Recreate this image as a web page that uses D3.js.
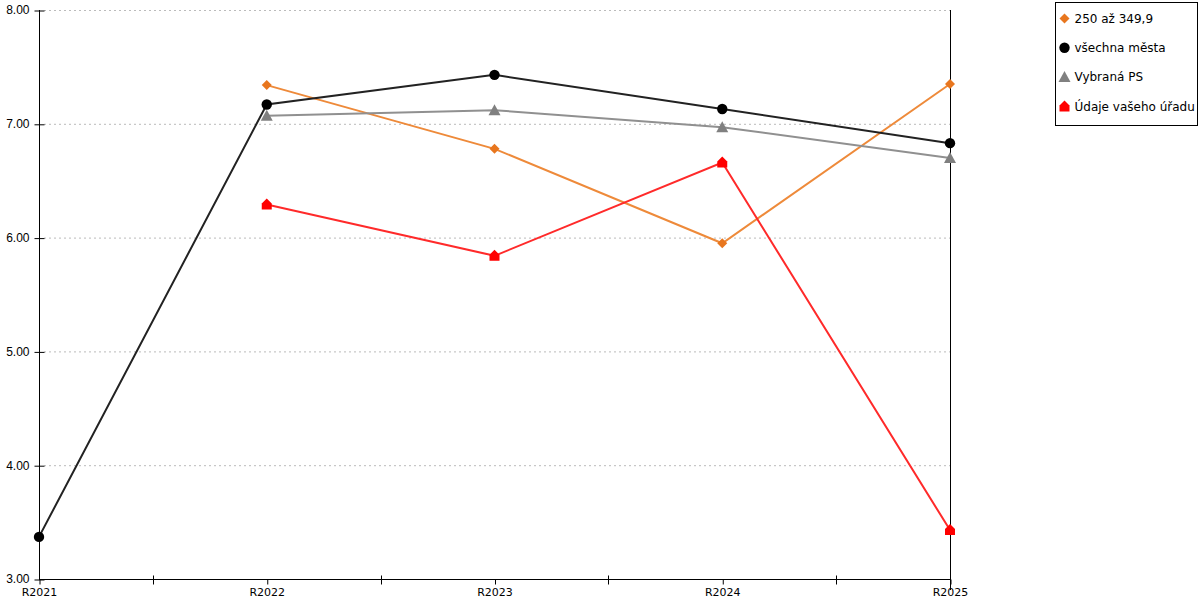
<!DOCTYPE html>
<html>
<head>
<meta charset="utf-8">
<script src="https://cdn.jsdelivr.net/npm/d3@7"></script>
<style>
body { margin: 0; background: #fff; }
text { font-family: "DejaVu Sans", Verdana, sans-serif; font-size: 11px; fill: #000; }
</style>
</head>
<body>
<svg></svg>
<script>
var w = 1200, h = 600;

var categories = ["R2021", "R2022", "R2023", "R2024", "R2025"];
var yTicks = [3, 4, 5, 6, 7, 8];

var seriesNames = ["250 až 349,9", "všechna města", "Vybraná PS", "Údaje vašeho úřadu"];
var seriesColors = ["#e8761e", "#000000", "#808080", "#ff0000"];
var lineColors = ["#ee8a3a", "#222222", "#909090", "#ff2a2a"];
var seriesShapes = ["diamond", "circle", "triangle", "house"];

var orangeValues = [null, 7.34, 6.78, 5.95, 7.35];
var blackValues = [3.37, 7.17, 7.43, 7.13, 6.83];
var grayValues = [null, 7.07, 7.12, 6.97, 6.70];
var redValues = [null, 6.29, 5.84, 6.66, 3.43];
var allValues = [orangeValues, blackValues, grayValues, redValues];

var svg = d3.select("svg")
    .attr("width", w)
    .attr("height", h)

var x = d3.scalePoint()
    .domain(categories)
    .range([39, 950])

var y = d3.scaleLinear()
    .domain([3, 8])
    .range([579, 10])

// grid lines
svg.append("g")
    .selectAll("line")
    .data(yTicks.filter(function(d) { return d > 3; }))
    .enter().append("line")
        .attr("x1", 44)
        .attr("x2", 950)
        .attr("y1", function(d) { return y(d) + .5; })
        .attr("y2", function(d) { return y(d) + .5; })
        .attr("stroke", "#bbb")
        .attr("stroke-dasharray", "2,3")

// y axis
var yAxis = svg.append("g")
    .attr("transform", "translate(39.5,0)")
    .call(d3.axisLeft(y).tickValues(yTicks).tickFormat(d3.format(".2f")).tickSize(5).tickSizeOuter(0))
yAxis.select(".domain").remove()
yAxis.append("line")
    .attr("y1", y(8)).attr("y2", y(3))
    .attr("stroke", "#000")
yAxis.selectAll(".tick line").attr("x2", -5).attr("x1", 5).attr("transform", "translate(0,0.5)")
yAxis.selectAll(".tick text")
    .attr("x", -10)
    .style("font-family", "'Liberation Sans', Arial, sans-serif")
    .style("font-size", "12px")

// right line
svg.append("line")
    .attr("x1", 950.5).attr("x2", 950.5)
    .attr("y1", y(8)).attr("y2", 590)
    .attr("stroke", "#000")

// x axis
var step = x.step();
var xAxis = svg.append("g")
    .attr("transform", "translate(0," + (y(3) + .5) + ")")
    .call(d3.axisBottom(x).tickSize(5).tickSizeOuter(0))
xAxis.select(".domain").remove()
xAxis.append("line")
    .attr("x1", 39).attr("x2", 950)
    .attr("stroke", "#000")
xAxis.selectAll(".tick text").attr("y", 9)
xAxis.selectAll(".tick line").attr("transform", "translate(0.5,0)")
xAxis.selectAll(".minor")
    .data(categories.slice(0, -1))
    .enter().append("line")
        .attr("class", "minor")
        .attr("x1", function(d) { return Math.round(x(d) + step / 2) + .5; })
        .attr("x2", function(d) { return Math.round(x(d) + step / 2) + .5; })
        .attr("y1", -4)
        .attr("y2", 5)
        .attr("stroke", "#000")

function markerPath(shape) {
    if (shape === "diamond") return "M0,-5L5,0L0,5L-5,0Z";
    if (shape === "triangle") return "M0,-6L6,5L-6,5Z";
    if (shape === "house") return "M0,-6L5,-1L5,5L-5,5L-5,-1Z";
    return d3.symbol().type(d3.symbolCircle).size(85)();
}

var line = d3.line()
    .defined(function(d) { return d.v !== null; })
    .x(function(d) { return x(d.c); })
    .y(function(d) { return y(d.v); })

allValues.forEach(function(vals, i) {
    var pts = categories.map(function(c, j) { return { c: c, v: vals[j] }; });
    svg.append("path")
        .datum(pts)
        .attr("fill", "none")
        .attr("stroke", lineColors[i])
        .attr("stroke-width", 2)
        .attr("d", line)
})

allValues.forEach(function(vals, i) {
    var pts = categories.map(function(c, j) { return { c: c, v: vals[j] }; })
        .filter(function(d) { return d.v !== null; });
    svg.append("g")
        .selectAll("path")
        .data(pts)
        .enter().append("path")
            .attr("transform", function(d) { return "translate(" + x(d.c) + "," + y(d.v) + ")"; })
            .attr("d", markerPath(seriesShapes[i]))
            .attr("fill", seriesColors[i])
})

// legend
var legend = svg.append("g")
    .attr("transform", "translate(1055.5,2.5)")
legend.append("rect")
    .attr("width", 142)
    .attr("height", 123)
    .attr("fill", "#fff")
    .attr("stroke", "#000")
var items = legend.selectAll(".item")
    .data(seriesNames)
    .enter().append("g")
        .attr("class", "item")
        .attr("transform", function(d, i) { return "translate(9," + (16 + i * 29.3) + ")"; })
items.append("path")
    .attr("d", function(d, i) { return markerPath(seriesShapes[i]); })
    .attr("fill", function(d, i) { return seriesColors[i]; })
items.append("text")
    .attr("x", 10)
    .attr("dy", "0.35em")
    .style("font-size", "12px")
    .text(function(d) { return d; })
</script>
</body>
</html>
